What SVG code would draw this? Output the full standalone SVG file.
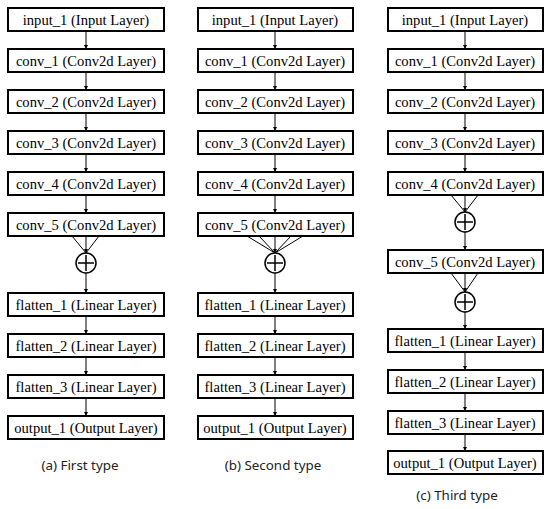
<svg xmlns="http://www.w3.org/2000/svg" width="550" height="509" viewBox="0 0 550 509">
<defs>
<marker id="ah" viewBox="0 0 8 8" refX="8" refY="4" markerWidth="4" markerHeight="4" orient="auto" markerUnits="userSpaceOnUse"><path d="M0,0 L8,4 L0,8 z" fill="#000"/></marker>
<style>
.b{fill:#fff;stroke:#000;stroke-width:2}
.t{font-family:"Liberation Serif","Times New Roman",serif;font-size:14.6px;text-anchor:middle;dominant-baseline:central;fill:#000}
.c{font-family:"Noto Sans","Open Sans",sans-serif;font-size:13.4px;text-anchor:middle;dominant-baseline:central;fill:#222}
.l{stroke:#000;stroke-width:1;fill:none}
.a{stroke:#000;stroke-width:1;fill:none;marker-end:url(#ah)}
.s{fill:#fff;stroke:#000;stroke-width:1.5}
</style>
</defs>
<rect width="550" height="509" fill="#fff"/>
<g id="connectors">
<!-- column a -->
<path class="a" d="M86,31 V49"/><path class="a" d="M86,72 V90"/><path class="a" d="M86,113 V131"/><path class="a" d="M86,154 V172"/><path class="a" d="M86,195 V213"/>
<path class="l" d="M72,236 L86,253 M99,236 L86,253"/><path class="a" d="M86,236 V253"/>
<path class="a" d="M86,273 V293"/><path class="a" d="M86,316 V334"/><path class="a" d="M86,357 V375"/><path class="a" d="M86,398 V416"/>
<!-- column b -->
<path class="a" d="M275,31 V49"/><path class="a" d="M275,72 V90"/><path class="a" d="M275,113 V131"/><path class="a" d="M275,154 V172"/><path class="a" d="M275,195 V213"/>
<path class="l" d="M247,236 L275,253 M259,236 L275,253 M291,236 L275,253 M303,236 L275,253"/><path class="a" d="M275,236 V253"/>
<path class="a" d="M275,273 V293"/><path class="a" d="M275,316 V334"/><path class="a" d="M275,357 V375"/><path class="a" d="M275,398 V416"/>
<!-- column c -->
<path class="a" d="M465,31 V49"/><path class="a" d="M465,72 V90"/><path class="a" d="M465,113 V131"/><path class="a" d="M465,154 V172"/>
<path class="l" d="M451,195 L465,212 M478,195 L465,212"/><path class="a" d="M465,195 V212"/>
<path class="a" d="M465,232 V250"/>
<path class="l" d="M451,273 L465,292 M478,273 L465,292"/><path class="a" d="M465,273 V292"/>
<path class="a" d="M465,312 V329"/><path class="a" d="M465,352 V370"/><path class="a" d="M465,393 V411"/><path class="a" d="M465,434 V451"/>
</g>
<g id="a_input"><rect class="b" x="8" y="8" width="156" height="23"/><text class="t" x="86" y="19.5">input_1 (Input Layer)</text></g>
<g id="a_conv1"><rect class="b" x="8" y="49" width="156" height="23"/><text class="t" x="86" y="60.5">conv_1 (Conv2d Layer)</text></g>
<g id="a_conv2"><rect class="b" x="8" y="90" width="156" height="23"/><text class="t" x="86" y="101.5">conv_2 (Conv2d Layer)</text></g>
<g id="a_conv3"><rect class="b" x="8" y="131" width="156" height="23"/><text class="t" x="86" y="142.5">conv_3 (Conv2d Layer)</text></g>
<g id="a_conv4"><rect class="b" x="8" y="172" width="156" height="23"/><text class="t" x="86" y="183.5">conv_4 (Conv2d Layer)</text></g>
<g id="a_conv5"><rect class="b" x="8" y="213" width="156" height="23"/><text class="t" x="86" y="224.5">conv_5 (Conv2d Layer)</text></g>
<g id="a_sum"><circle class="s" cx="86" cy="263" r="10"/><path class="s" d="M86,255 V271 M78,263 H94"/></g>
<g id="a_flat1"><rect class="b" x="8" y="293" width="156" height="23"/><text class="t" x="86" y="304.5">flatten_1 (Linear Layer)</text></g>
<g id="a_flat2"><rect class="b" x="8" y="334" width="156" height="23"/><text class="t" x="86" y="345.5">flatten_2 (Linear Layer)</text></g>
<g id="a_flat3"><rect class="b" x="8" y="375" width="156" height="23"/><text class="t" x="86" y="386.5">flatten_3 (Linear Layer)</text></g>
<g id="a_output"><rect class="b" x="8" y="416" width="156" height="23"/><text class="t" x="86" y="427.5">output_1 (Output Layer)</text></g>
<text class="c" x="80" y="465">(a) First type</text>

<g id="b_input"><rect class="b" x="198" y="8" width="155" height="23"/><text class="t" x="275" y="19.5">input_1 (Input Layer)</text></g>
<g id="b_conv1"><rect class="b" x="198" y="49" width="155" height="23"/><text class="t" x="275" y="60.5">conv_1 (Conv2d Layer)</text></g>
<g id="b_conv2"><rect class="b" x="198" y="90" width="155" height="23"/><text class="t" x="275" y="101.5">conv_2 (Conv2d Layer)</text></g>
<g id="b_conv3"><rect class="b" x="198" y="131" width="155" height="23"/><text class="t" x="275" y="142.5">conv_3 (Conv2d Layer)</text></g>
<g id="b_conv4"><rect class="b" x="198" y="172" width="155" height="23"/><text class="t" x="275" y="183.5">conv_4 (Conv2d Layer)</text></g>
<g id="b_conv5"><rect class="b" x="198" y="213" width="155" height="23"/><text class="t" x="275" y="224.5">conv_5 (Conv2d Layer)</text></g>
<g id="b_sum"><circle class="s" cx="275" cy="263" r="10"/><path class="s" d="M275,255 V271 M267,263 H283"/></g>
<g id="b_flat1"><rect class="b" x="198" y="293" width="155" height="23"/><text class="t" x="275" y="304.5">flatten_1 (Linear Layer)</text></g>
<g id="b_flat2"><rect class="b" x="198" y="334" width="155" height="23"/><text class="t" x="275" y="345.5">flatten_2 (Linear Layer)</text></g>
<g id="b_flat3"><rect class="b" x="198" y="375" width="155" height="23"/><text class="t" x="275" y="386.5">flatten_3 (Linear Layer)</text></g>
<g id="b_output"><rect class="b" x="198" y="416" width="155" height="23"/><text class="t" x="275" y="427.5">output_1 (Output Layer)</text></g>
<text class="c" x="273" y="465">(b) Second type</text>

<g id="c_input"><rect class="b" x="388" y="8" width="155" height="23"/><text class="t" x="465" y="19.5">input_1 (Input Layer)</text></g>
<g id="c_conv1"><rect class="b" x="388" y="49" width="155" height="23"/><text class="t" x="465" y="60.5">conv_1 (Conv2d Layer)</text></g>
<g id="c_conv2"><rect class="b" x="388" y="90" width="155" height="23"/><text class="t" x="465" y="101.5">conv_2 (Conv2d Layer)</text></g>
<g id="c_conv3"><rect class="b" x="388" y="131" width="155" height="23"/><text class="t" x="465" y="142.5">conv_3 (Conv2d Layer)</text></g>
<g id="c_conv4"><rect class="b" x="388" y="172" width="155" height="23"/><text class="t" x="465" y="183.5">conv_4 (Conv2d Layer)</text></g>
<g id="c_sum1"><circle class="s" cx="465" cy="222" r="10"/><path class="s" d="M465,214 V230 M457,222 H473"/></g>
<g id="c_conv5"><rect class="b" x="388" y="250" width="155" height="23"/><text class="t" x="465" y="261.5">conv_5 (Conv2d Layer)</text></g>
<g id="c_sum2"><circle class="s" cx="465" cy="302" r="10"/><path class="s" d="M465,294 V310 M457,302 H473"/></g>
<g id="c_flat1"><rect class="b" x="388" y="329" width="155" height="23"/><text class="t" x="465" y="340.5">flatten_1 (Linear Layer)</text></g>
<g id="c_flat2"><rect class="b" x="388" y="370" width="155" height="23"/><text class="t" x="465" y="381.5">flatten_2 (Linear Layer)</text></g>
<g id="c_flat3"><rect class="b" x="388" y="411" width="155" height="23"/><text class="t" x="465" y="422.5">flatten_3 (Linear Layer)</text></g>
<g id="c_output"><rect class="b" x="388" y="451" width="155" height="23"/><text class="t" x="465" y="462.5">output_1 (Output Layer)</text></g>
<text class="c" x="457" y="495">(c) Third type</text>
</svg>
